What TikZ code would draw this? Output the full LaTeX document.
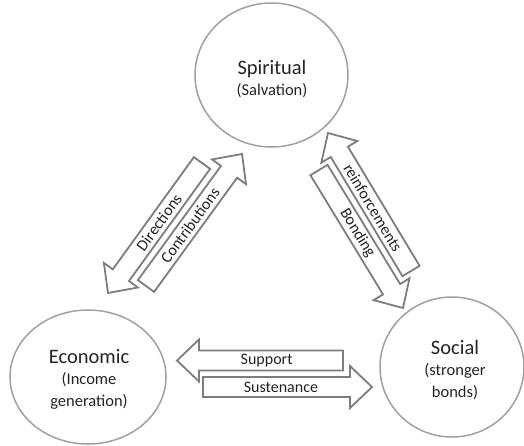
\documentclass[tikz,border=0pt]{standalone}
\usepackage{fontspec}
\setmainfont{Carlito}
\usetikzlibrary{calc,shapes.geometric}
\definecolor{arrowgray}{RGB}{125,125,125}
\definecolor{circgray}{RGB}{160,160,160}
\definecolor{txt}{RGB}{35,35,35}
\newcommand{\bw}{10pt}
\newcommand{\hw}{21pt}
\newcommand{\hl}{22pt}
\newcommand{\blockarrow}[3]{%
  \path ($(#2)!\hl!(#1)$) coordinate (hb-#1);
  \draw[arrowline] ($(#1)!\bw!90:(#2)$) -- ($(hb-#1)!\bw!-90:(#1)$) -- ($(hb-#1)!\hw!-90:(#1)$) -- (#2)
     -- ($(hb-#1)!\hw!90:(#1)$) -- ($(hb-#1)!\bw!90:(#1)$) -- ($(#1)!\bw!-90:(#2)$) -- cycle;
  \path (#1) -- (hb-#1) node[pos=0.53, sloped, arrowlabel] (l-#1) {#3};
}
\begin{document}
\begin{tikzpicture}[x=1pt,y=-1pt,
  circ/.style={draw=circgray, line width=1.5pt, ellipse, inner sep=0pt},
  circtext/.style={text=txt, align=center, inner sep=0pt, font=\fontsize{16.5}{21.5}\selectfont},
  arrowline/.style={draw=arrowgray, line width=1.8pt, fill=white, line join=miter},
  arrowlabel/.style={text=txt, inner sep=0pt, font=\fontsize{16}{18}\selectfont}]
\useasboundingbox (0,0) rectangle (524,445);

% circles
\node[circ, minimum width=153pt, minimum height=144pt] (spi) at (271.5,75) {};
\node[circ, minimum width=156pt, minimum height=134pt] (eco) at (88,377) {};
\node[circ, minimum width=144pt, minimum height=140pt] (soc) at (452,367) {};

\node[circtext] (spit) at (272,79) {{\fontsize{20.5}{21.5}\selectfont Spiritual}\\(Salvation)};
\node[circtext] (ecot) at (89,379) {{\fontsize{20.5}{21.5}\selectfont Economic}\\(Income\\generation)};
\node[circtext] (soct) at (455,370) {{\fontsize{20.5}{21.5}\selectfont Social}\\(stronger\\bonds)};

% arrow end points
\coordinate (cT) at (146,286);
\coordinate (cH) at (242,154);
\coordinate (dT) at (202,163);
\coordinate (dH) at (108,293);
\coordinate (bT) at (319,170);
\coordinate (bH) at (403,308);
\coordinate (rT) at (411,271);
\coordinate (rH) at (328,133);
\coordinate (sT) at (343,360.5);
\coordinate (sH) at (177,360.5);
\coordinate (uT) at (203,387);
\coordinate (uH) at (372,387);

\blockarrow{dT}{dH}{Directions}
\blockarrow{cT}{cH}{Contributions}
\blockarrow{rT}{rH}{reinforcements}
\blockarrow{bT}{bH}{Bonding}
\blockarrow{sT}{sH}{Support}
\blockarrow{uT}{uH}{Sustenance}
\end{tikzpicture}
\end{document}
